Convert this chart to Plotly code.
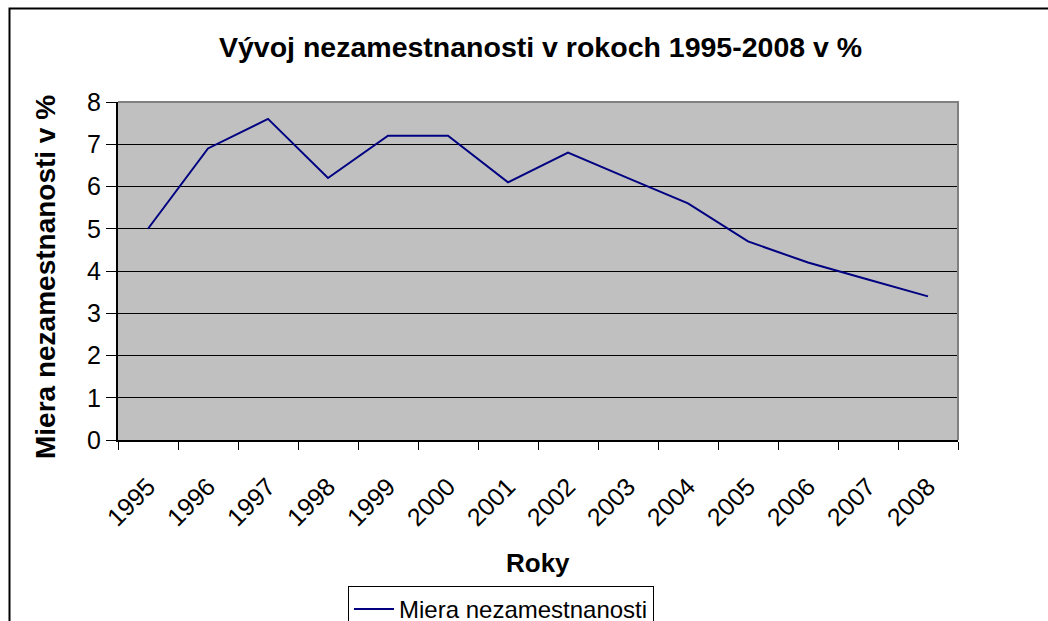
import plotly.graph_objects as go

years = ["1995", "1996", "1997", "1998", "1999", "2000", "2001",
         "2002", "2003", "2004", "2005", "2006", "2007", "2008"]
miera = [5.0, 6.9, 7.6, 6.2, 7.2, 7.2, 6.1, 6.8, 6.2, 5.6, 4.7, 4.2, 3.8, 3.4]

title_text = "Vývoj nezamestnanosti v rokoch 1995-2008 v %"
y_title = "Miera nezamestnanosti v %"
x_title = "Roky"
series_name = "Miera nezamestnanosti"

FONT = "Liberation Sans, Arial, sans-serif"

# plot area in pixels: x 118..958, y 102..440
L, R, T, B = 118, 958, 102, 440
W, H = 1048, 621


def px(x):
    return (x - L) / (R - L)


def py(y):
    return (B - y) / (B - T)


fig = go.Figure()
fig.add_trace(go.Scatter(
    x=years, y=miera, mode="lines", name=series_name,
    line=dict(color="#000080", width=2),
))

fig.update_layout(
    width=W, height=H,
    margin=dict(l=L, r=W - R, t=T, b=H - B, autoexpand=False),
    paper_bgcolor="white",
    plot_bgcolor="#C0C0C0",
    font=dict(family=FONT, color="black"),
    showlegend=True,
    legend=dict(
        x=px(348), y=py(586), xanchor="left", yanchor="top",
        bordercolor="black", borderwidth=1, bgcolor="white",
        font=dict(size=24, family=FONT, color="black"),
        itemwidth=40, tracegroupgap=0,
    ),
    xaxis=dict(
        type="category", range=[-0.5, 13.5],
        tickson="boundaries", ticks="outside", ticklen=8, tickwidth=1,
        tickcolor="black", tickangle=-45,
        tickfont=dict(size=25, family=FONT, color="black"),
        ticklabelstandoff=20,
        showgrid=False, showline=True, linecolor="black", linewidth=2,
        zeroline=False, fixedrange=True,
    ),
    yaxis=dict(
        range=[0, 8], dtick=1, tick0=0,
        ticks="outside", ticklen=10, tickwidth=1, tickcolor="black",
        tickfont=dict(size=25, family=FONT, color="black"),
        showgrid=True, gridcolor="black", gridwidth=1,
        showline=True, linecolor="black", linewidth=2,
        zeroline=False, fixedrange=True,
    ),
    shapes=[
        # plot area top/right border
        dict(type="path", xref="paper", yref="paper",
             path="M 0,1 L 1,1 L 1,0",
             line=dict(color="#808080", width=2), layer="above"),
        # outer chart frame (left & top visible)
        dict(type="path", xref="paper", yref="paper",
             path=f"M {px(9.5)},{py(640)} L {px(9.5)},{py(8.5)} L {px(1060)},{py(8.5)}",
             line=dict(color="black", width=2), layer="above"),
    ],
    annotations=[
        dict(text=f"<b>{title_text}</b>", xref="paper", yref="paper",
             x=px(540), y=py(47), xanchor="center", yanchor="middle",
             showarrow=False, font=dict(size=28.5, family=FONT, color="black")),
        dict(text=f"<b>{y_title}</b>", xref="paper", yref="paper",
             x=px(45), y=py(277), xanchor="center", yanchor="middle",
             textangle=-90, showarrow=False,
             font=dict(size=28, family=FONT, color="black")),
        dict(text=f"<b>{x_title}</b>", xref="paper", yref="paper",
             x=px(538), y=py(563), xanchor="center", yanchor="middle",
             showarrow=False, font=dict(size=26, family=FONT, color="black")),
    ],
)

fig.write_html(
    "out.html",
    config={"displayModeBar": False},
    post_script="document.body.style.margin='0';document.body.style.overflow='hidden';",
)
